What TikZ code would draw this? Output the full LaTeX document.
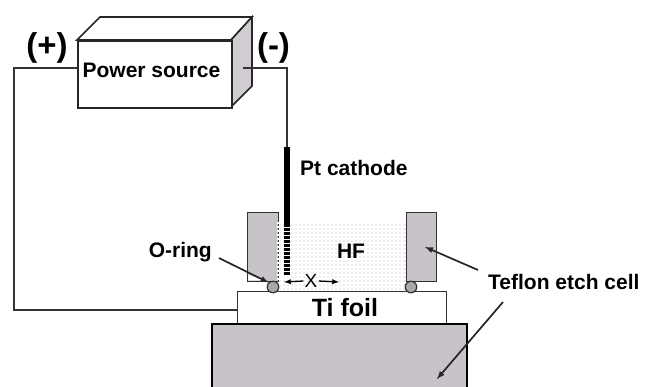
\documentclass[tikz,border=0pt]{standalone}
\usepackage{fontspec}
\setmainfont{Liberation Sans}
\usetikzlibrary{calc}
\usetikzlibrary{arrows}
\definecolor{cellgray}{HTML}{C8C3C9}
\definecolor{ringgray}{HTML}{A8A8A8}
\definecolor{linegray}{HTML}{333333}
\tikzset{
	wire/.style={linegray,line width=1.1pt},
	cellblock/.style={draw=linegray,line width=1.4pt,fill=cellgray,inner sep=0pt},
	oring/.style={circle,draw=linegray,line width=1.2pt,fill=ringgray,inner sep=0pt,minimum size=11.5pt},
	lbl/.style={inner sep=0pt,font=\fontsize{21}{21}\selectfont\bfseries},
	pointer/.style={black!85,line width=1.7pt,-latex}
}
\begin{document}
\begin{tikzpicture}[x=1pt,y=-1pt]
	\useasboundingbox (0,0) rectangle (645,387);
	% power source box
	\draw[black!85,line width=1.6pt,fill=white] (77,40) -- (100,17) -- (252,17) -- (231,40) -- cycle;
	\draw[black!85,line width=1.6pt,fill=cellgray!85!white] (231,40) -- (252,17) -- (252,86) -- (231,107) -- cycle;
	\node[draw=black!85,line width=1.6pt,fill=white,minimum width=154pt,minimum height=67pt,inner sep=0pt,anchor=north west] (source) at (77,40) {};
	\node[lbl] (sourcetxt) at (151.5,70) {Power source};
	\node[lbl,font=\fontsize{33}{33}\selectfont\bfseries] (plus) at (47,48) {(+)};
	\node[lbl,font=\fontsize{33}{33}\selectfont\bfseries] (minus) at (273.5,48) {(-)};
	% cell
	\fill[black!7] (280,222) rectangle (406,290);
	\foreach \i in {0,...,30} \draw[white,line width=1.1pt] ({282+4*\i},221) -- ({282+4*\i},291);
	\foreach \i in {0,...,17} \draw[white,line width=1.1pt] (279,{223+4*\i}) -- (407,{223+4*\i});
	\node[cellblock,minimum width=31pt,minimum height=69pt,anchor=north west] (leftcell) at (247,212) {};
	\node[cellblock,minimum width=30pt,minimum height=69pt,anchor=north west] (rightcell) at (406,212) {};
	\fill[white] (248,280.3) -- (248,275) -- (265,280.3) -- cycle;
	\draw[white,line width=1.5pt,dash pattern=on 2pt off 2pt] (278,222) -- (278,281);
	\node[draw=linegray,line width=1.3pt,fill=white,minimum width=209pt,minimum height=33pt,inner sep=0pt,anchor=north west] (foil) at (237,291) {};
	\node[inner sep=0pt,font=\fontsize{25}{25}\selectfont\bfseries] (foiltxt) at (345,308) {Ti foil};
	\draw[black,line width=2pt,fill=cellgray] (212,390) -- (212,324) -- (467,324) -- (467,390); % base
	\node[oring] (lring) at (273,287) {};
	\node[oring] (rring) at (411,287) {};
	% cathode
	\draw[black,line width=6pt] (287,147) -- (287,275);
	\foreach \i in {0,...,12} \draw[white,line width=0.7pt] (284,{227+4*\i}) -- (290,{227+4*\i});
	\coordinate (cathodetop) at (287,147);
	% wires
	\coordinate (lwire) at (77,68);
	\coordinate (rwire) at (243,68);
	\coordinate (foiltap) at (237,310);
	\draw[wire] (lwire) -- (14,68) -- (14,310) -- (foiltap);
	\draw[wire] (rwire) -- (287,68) -- (cathodetop);
	% labels
	\node[lbl,anchor=west] (pt) at (300,168) {Pt cathode};
	\node[lbl] (hf) at (351,251) {HF};
	\node[lbl,anchor=east] (ring) at (212,252) {O-ring};
	\node[lbl,anchor=west] (teflon) at (488,282) {Teflon etch cell};
	\node[inner sep=1pt,font=\fontsize{19}{19}\selectfont] (xlen) at (311,281) {X};
	\draw[black,line width=1.3pt,-latex] (xlen.west) -- (284,282);
	\draw[black,line width=1.3pt,-latex] (xlen.east) -- (339,282);
	\coordinate (ringstart) at (219,258);
	\coordinate (topstart) at (478,270);
	\coordinate (lowstart) at (503,302);
	\draw[pointer] (ringstart) -- (lring.north west);
	\coordinate (topend) at (425,247);
	\coordinate (lowend) at (437,379);
	\draw[pointer] (topstart) -- (topend);
	\draw[pointer] (lowstart) -- (lowend);
\end{tikzpicture}
\end{document}
